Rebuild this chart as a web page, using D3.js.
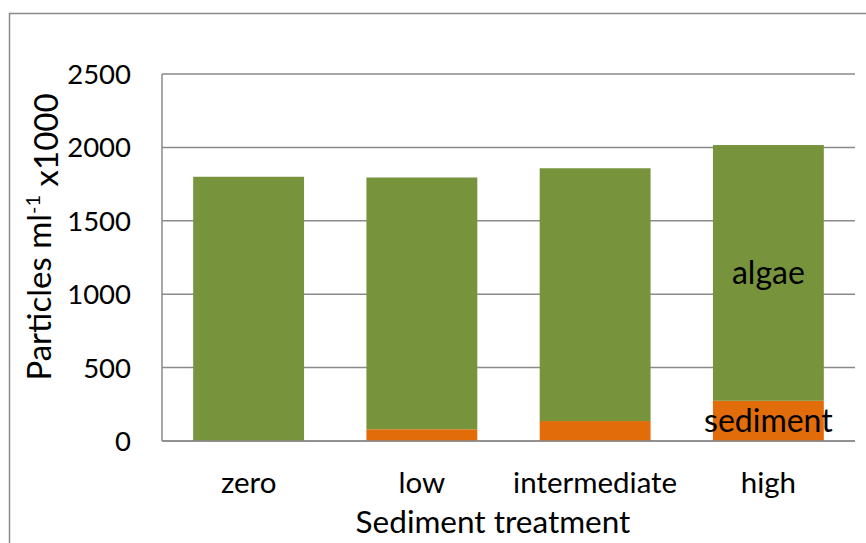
<!DOCTYPE html>
<html lang="en">
    <head>
        <meta charset="utf-8">
        <title>Particles by sediment treatment</title>
        <script type="text/javascript" src="https://d3js.org/d3.v7.min.js"></script>
        <style type="text/css">
            body { margin: 0; background: #fff; }
            text { font-family: Lato, 'Open Sans', sans-serif; fill: #000; }
            .grid line { stroke: #8a8a8a; stroke-width: 1.5; }
        </style>
    </head>
    <body>
        <script type="text/javascript">
            // chart dimensions
            const svgW = 866;
            const svgH = 543;

            // data (particles ml-1 x1000)
            const categories = ["zero", "low", "intermediate", "high"];
            const sediment = [0, 80, 136, 274];
            const algae = [1800, 1715, 1722, 1742];
            const yTicks = [0, 500, 1000, 1500, 2000, 2500];

            const margin = {left: 162, right: 11, top: 74, bottom: 102};

            const scaleX = d3.scaleBand()
                            .domain(categories)
                            .range([margin.left, svgW - margin.right])
                            .paddingInner(0.36)
                            .paddingOuter(0.18);
            const scaleY = d3.scaleLinear()
                            .domain([0, 2500])
                            .range([svgH - margin.bottom, margin.top]);

            const svg = d3.select("body")
                        .append("svg")
                        .attr("width", svgW)
                        .attr("height", svgH);

            // outer chart border
            svg.append("rect")
                .attr("x", 9.5).attr("y", 13.5)
                .attr("width", 900).attr("height", 600)
                .attr("fill", "none")
                .attr("stroke", "#8a8a8a")
                .attr("stroke-width", 1.5);

            // horizontal gridlines
            svg.append("g")
                .attr("class", "grid")
                .selectAll("line")
                .data(yTicks)
                .enter()
                .append("line")
                .attr("x1", margin.left)
                .attr("x2", svgW - margin.right)
                .attr("y1", d => scaleY(d))
                .attr("y2", d => scaleY(d));

            // left axis line
            svg.append("line")
                .attr("x1", margin.left).attr("x2", margin.left)
                .attr("y1", scaleY(0)).attr("y2", scaleY(2500))
                .attr("stroke", "#8a8a8a")
                .attr("stroke-width", 1.5);

            // stacked bars: sediment at the bottom, algae above
            const stacks = categories.map((c, i) => ({cat: c, sed: sediment[i], alg: algae[i]}));

            svg.selectAll("rect.sed")
                .data(stacks)
                .enter()
                .append("rect")
                .attr("class", "sed")
                .attr("x", d => scaleX(d.cat))
                .attr("width", scaleX.bandwidth())
                .attr("y", d => scaleY(d.sed))
                .attr("height", d => scaleY(0) - scaleY(d.sed))
                .attr("fill", "#e36c0a");

            svg.selectAll("rect.alg")
                .data(stacks)
                .enter()
                .append("rect")
                .attr("class", "alg")
                .attr("x", d => scaleX(d.cat))
                .attr("width", scaleX.bandwidth())
                .attr("y", d => scaleY(d.sed + d.alg))
                .attr("height", d => scaleY(d.sed) - scaleY(d.sed + d.alg))
                .attr("fill", "#77933c");

            // bottom axis line (drawn over bars)
            svg.append("line")
                .attr("x1", margin.left).attr("x2", svgW - margin.right)
                .attr("y1", scaleY(0)).attr("y2", scaleY(0))
                .attr("stroke", "#8a8a8a")
                .attr("stroke-width", 1.5);

            // y tick labels
            svg.selectAll("text.ytick")
                .data(yTicks)
                .enter()
                .append("text")
                .attr("class", "ytick")
                .attr("x", 131)
                .attr("y", d => scaleY(d))
                .attr("dy", "0.36em")
                .attr("text-anchor", "end")
                .style("font-size", "27.5px")
                .text(d => d);

            // category labels
            svg.selectAll("text.xtick")
                .data(categories)
                .enter()
                .append("text")
                .attr("class", "xtick")
                .attr("x", d => scaleX(d) + scaleX.bandwidth() / 2)
                .attr("y", 493)
                .attr("text-anchor", "middle")
                .style("font-size", "29.5px")
                .text(d => d);

            // in-bar labels on the last bar
            const last = stacks[stacks.length - 1];
            const cx = scaleX(last.cat) + scaleX.bandwidth() / 2;
            svg.append("text")
                .attr("x", cx)
                .attr("y", scaleY(last.sed + last.alg / 2))
                .attr("dy", "0.36em")
                .attr("text-anchor", "middle")
                .style("font-size", "32px")
                .text("algae");
            svg.append("text")
                .attr("x", cx)
                .attr("y", scaleY(last.sed / 2))
                .attr("dy", "0.36em")
                .attr("text-anchor", "middle")
                .style("font-size", "32px")
                .text("sediment");

            // axis titles
            svg.append("text")
                .attr("x", 493)
                .attr("y", 533)
                .attr("text-anchor", "middle")
                .style("font-size", "31.5px")
                .text("Sediment treatment");

            const yTitle = svg.append("text")
                .attr("transform", "translate(51,237) rotate(-90)")
                .attr("text-anchor", "middle")
                .style("font-size", "33px");
            yTitle.append("tspan").text("Particles ml");
            yTitle.append("tspan")
                .attr("dy", "-0.55em")
                .style("font-size", "20px")
                .text("-1");
            yTitle.append("tspan")
                .attr("dy", "0.55em")
                .text(" x1000");
        </script>
    </body>
</html>
